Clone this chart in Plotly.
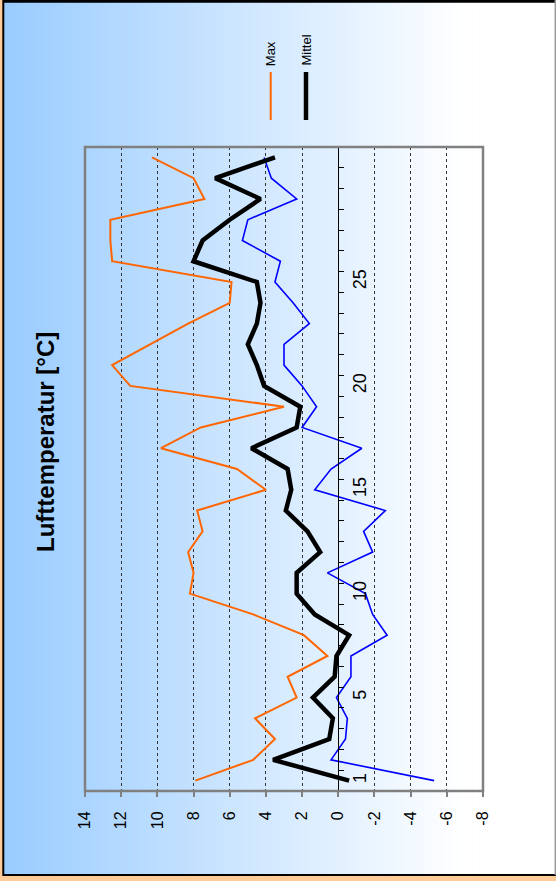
import plotly.graph_objects as go

# ---- data ----
days = list(range(1, 32))
t_max = [7.9, 4.7, 3.5, 4.6, 2.3, 2.8, 0.6, 1.9, 4.7, 8.2, 8.0, 8.3, 7.5, 7.8, 4.0, 5.6,
         9.8, 7.6, 3.0, 11.5, 12.5, 10.4, 8.3, 6.0, 5.9, 12.5, 12.6, 12.6, 7.4, 8.0, 10.3]
t_mittel = [-0.6, 3.6, 0.5, 0.3, 1.4, 0.2, 0.1, -0.6, 1.3, 2.3, 2.3, 1.0, 1.7, 2.9, 2.6, 2.8,
            4.8, 2.3, 2.1, 4.1, 4.5, 5.0, 4.5, 4.3, 4.5, 8.0, 7.5, 6.0, 4.3, 6.8, 3.5]
t_min = [-5.3, 0.4, -0.4, -0.5, 0.1, -0.7, -0.7, -2.7, -1.9, -1.5, 0.6, -1.9, -1.4, -2.6, 1.3, 0.4,
         -1.3, 2.0, 1.2, 2.0, 3.0, 3.0, 1.6, 2.5, 3.5, 3.2, 5.3, 5.0, 2.3, 3.7, 4.1]
temp_ticks = [14, 12, 10, 8, 6, 4, 2, 0, -2, -4, -6, -8]
temp_labels = ["14", "12", "10", "8", "6", "4", "2", "0", "-2", "-4", "-6", "-8"]
day_ticks = [1, 5, 10, 15, 20, 25]
day_labels = ["1", "5", "10", "15", "20", "25"]
title_text = "Lufttemperatur [°C]"
legend_names = ["Max", "Mittel"]

# ---- geometry ----
W, H = 556, 881
L, R, T, B = 85, 483, 147, 791


def fx(px):
    return (px - L) / (R - L)


def fy(py):
    return (B - py) / (B - T)


FONT = "Liberation Sans, Arial, sans-serif"
C_MAX = "#FF6600"
C_MIT = "#000000"
C_MIN = "#0000FF"

fig = go.Figure()
fig.add_trace(go.Scatter(x=t_max, y=days, mode="lines", line=dict(color=C_MAX, width=2),
                         name="Max", showlegend=False))
fig.add_trace(go.Scatter(x=t_min, y=days, mode="lines", line=dict(color=C_MIN, width=1.6),
                         name="Min", showlegend=False))
fig.add_trace(go.Scatter(x=t_mittel, y=days, mode="lines", line=dict(color=C_MIT, width=4.5),
                         name="Mittel", showlegend=False))

shapes = []
# gradient background of the inner chart area
x_left, x_right = 3, 555
g_end = 465
n = 80
c0 = (153, 204, 255)
c1 = (255, 255, 255)
for i in range(n):
    a = x_left + (x_right - x_left) * i / n
    b = x_left + (x_right - x_left) * (i + 1) / n
    mid = (a + b) / 2
    f = min(1.0, max(0.0, (mid - x_left) / (g_end - x_left)))
    col = tuple(int(round(c0[k] + (c1[k] - c0[k]) * f)) for k in range(3))
    shapes.append(dict(type="rect", xref="paper", yref="paper", layer="below",
                       x0=fx(a), x1=fx(b + 0.6), y0=fy(875), y1=fy(0),
                       fillcolor="rgb(%d,%d,%d)" % col, line=dict(width=0)))
# black frame lines (left, top, bottom), gray right
shapes.append(dict(type="line", xref="paper", yref="paper", layer="below",
                   x0=fx(3.3), x1=fx(3.3), y0=fy(876), y1=fy(0), line=dict(color="black", width=2)))
shapes.append(dict(type="line", xref="paper", yref="paper", layer="below",
                   x0=fx(3), x1=fx(556), y0=fy(1.2), y1=fy(1.2), line=dict(color="black", width=3)))
shapes.append(dict(type="line", xref="paper", yref="paper", layer="below",
                   x0=fx(3), x1=fx(556), y0=fy(875), y1=fy(875), line=dict(color="black", width=2)))
shapes.append(dict(type="line", xref="paper", yref="paper", layer="below",
                   x0=fx(555.3), x1=fx(555.3), y0=fy(875), y1=fy(0), line=dict(color="#9a9a9a", width=1.5)))
# plot area border
shapes.append(dict(type="rect", xref="paper", yref="paper", layer="above",
                   x0=0, x1=1, y0=0, y1=1, line=dict(color="#808080", width=2.5)))

# legend (rotated)
leg_x = [270.7, 306]
leg_col = [C_MAX, C_MIT]
leg_w = [2, 4.5]
annotations = []
for name, lx, col, lw in zip(legend_names, leg_x, leg_col, leg_w):
    shapes.append(dict(type="line", xref="paper", yref="paper",
                       x0=fx(lx), x1=fx(lx), y0=fy(72), y1=fy(120),
                       line=dict(color=col, width=lw)))
    annotations.append(dict(text=name, textangle=-90, xref="paper", yref="paper",
                            x=fx(lx), y=fy(68), xanchor="center", yanchor="bottom",
                            showarrow=False, font=dict(family=FONT, size=13, color="black")))

annotations.append(dict(text="<b>" + title_text + "</b>", textangle=-90, xref="paper", yref="paper",
                        x=fx(45), y=fy(442), xanchor="center", yanchor="middle",
                        showarrow=False, font=dict(family=FONT, size=24, color="black")))

fig.update_layout(
    width=W, height=H,
    margin=dict(l=L, r=W - R, t=T, b=H - B, pad=0),
    paper_bgcolor="#FFCC99",
    plot_bgcolor="rgba(0,0,0,0)",
    showlegend=False,
    shapes=shapes,
    annotations=annotations,
    font=dict(family=FONT, color="black"),
    xaxis=dict(range=[14, -8], tickvals=temp_ticks, ticktext=temp_labels, tickangle=-90,
               ticks="outside", ticklen=5, tickcolor="#808080", tickwidth=1.5,
               showgrid=True, gridcolor="#333333", griddash="dot", gridwidth=1,
               zeroline=False, showline=False,
               tickfont=dict(family=FONT, size=16, color="black"), ticklabelstandoff=8),
    yaxis=dict(range=[0.5, 31.5], anchor="free", position=14 / 22, side="right",
               showline=True, linecolor="black", linewidth=1.2,
               tickvals=day_ticks, ticktext=day_labels, tickangle=-90, ticks="",
               showgrid=False, zeroline=False,
               minor=dict(tickvals=[d + 0.5 for d in [0] + days], ticks="outside", ticklen=5,
                          tickcolor="black", tickwidth=1, showgrid=False),
               tickfont=dict(family=FONT, size=18, color="black"), ticklabelstandoff=5),
)

fig.write_html("out.html", config={"displayModeBar": False},
               post_script="document.body.style.margin='0';document.body.style.overflow='hidden';")
